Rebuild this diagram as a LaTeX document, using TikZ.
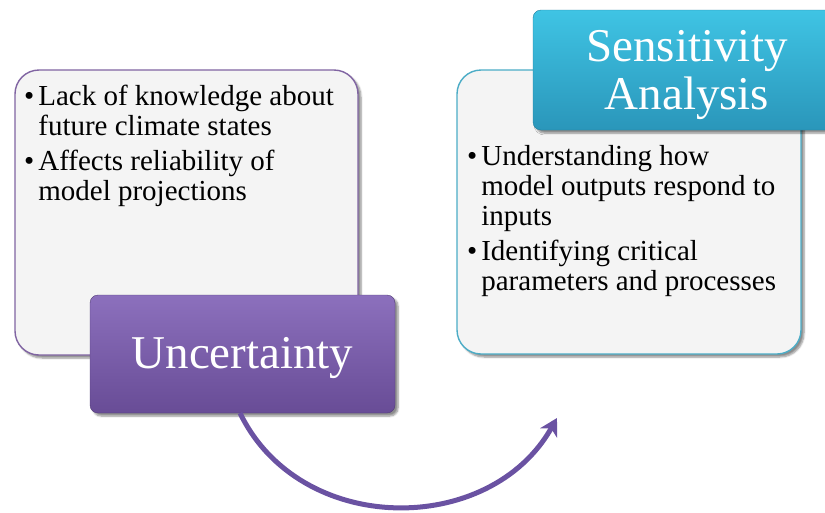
\documentclass[tikz,border=0pt]{standalone}
\usepackage{fontspec}
\setmainfont{Liberation Serif}
\usetikzlibrary{shadows,shadows.blur,arrows.meta}

\definecolor{panelfill}{HTML}{F4F4F4}
\definecolor{violetedge}{HTML}{8064A2}
\definecolor{tealedge}{HTML}{4BACC6}
\definecolor{violettop}{HTML}{8C70BD}
\definecolor{violetbot}{HTML}{684C96}
\definecolor{cyantop}{HTML}{3FC4E4}
\definecolor{cyanbot}{HTML}{2A96BA}
\definecolor{arrowviolet}{HTML}{6A52A2}

\tikzset{
  panel/.style={rectangle, rounded corners=24pt, fill=panelfill, line width=1.4pt,
    inner sep=0pt, outer sep=0pt,
    blur shadow={shadow xshift=3pt, shadow yshift=-3pt, shadow blur steps=6, shadow opacity=45}},
  titlebox/.style={rectangle, rounded corners=8pt, inner sep=0pt, outer sep=0pt,
    blur shadow={shadow xshift=3pt, shadow yshift=-3pt, shadow blur steps=6, shadow opacity=45}},
  bodytext/.style={inner sep=0pt, anchor=base west,
    font=\fontsize{29}{30}\selectfont},
  titletext/.style={inner sep=0pt, text=white, align=center,
    font=\fontsize{47}{48}\selectfont},
  flowarrow/.style={draw=arrowviolet, line width=5pt,
    -{Stealth[length=17pt,width=19pt,inset=5pt]}}
}

\newcommand{\bulletlist}[1]{%
  \begin{tabular}[t]{@{}l@{\hspace{4pt}}l@{}}#1\end{tabular}}

\begin{document}
\begin{tikzpicture}[x=1pt,y=-1pt]
  \useasboundingbox (0,0) rectangle (825,512);
  \clip (0,0) rectangle (825,512);

  % left panel with its title tab
  \node[panel, draw=violetedge, minimum width=343pt, minimum height=285pt]
    (leftpanel) at (186.5,212.5) {};
  \node[bodytext] (lefttext) at (24,105) {\bulletlist{%
      • & Lack of knowledge about\\
        & future climate states\\[5pt]
      • & Affects reliability of\\
        & model projections}};
  \node[titlebox, draw=violetbot!80!black, top color=violettop, bottom color=violetbot,
    minimum width=305pt, minimum height=118pt] (unc) at (242.5,354) {};
  \node[titletext, anchor=base] (unctext) at (242.5,368) {Uncertainty};

  % right panel with its title tab
  \node[panel, draw=tealedge, minimum width=344pt, minimum height=284pt]
    (rightpanel) at (629,212) {};
  \node[bodytext] (righttext) at (467,165) {\bulletlist{%
      • & Understanding how\\
        & model outputs respond to\\
        & inputs\\[5pt]
      • & Identifying critical\\
        & parameters and processes}};
  \node[titlebox, draw=cyanbot!85!black, top color=cyantop, bottom color=cyanbot,
    minimum width=308pt, minimum height=120pt] (sens) at (687,70) {};
  \node[titletext] (senstext) at (687,75) {Sensitivity\\Analysis};

  % curved connector from the first tab towards the second panel
  \coordinate (arrowend) at (557,418);
  \draw[flowarrow] ([xshift=-2.5pt]unc.south) .. controls (300,537) and (490,537) .. (arrowend);
\end{tikzpicture}
\end{document}
